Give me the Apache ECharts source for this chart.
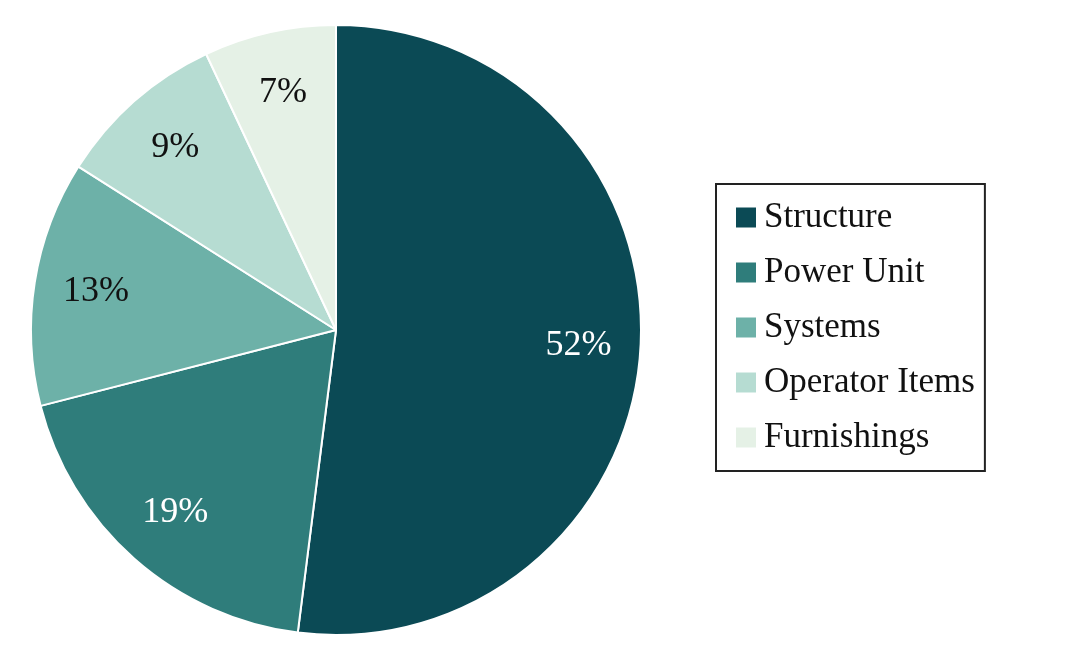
<!DOCTYPE html>
<html>
<head>
<meta charset="utf-8">
<script src="https://cdn.jsdelivr.net/npm/echarts@6/dist/echarts.min.js"></script>
<style>html,body{margin:0;background:#fff}#chart{width:1092px;height:662px}</style>
</head>
<body>
<div id="chart"></div>
<script>
var categories = ["Structure", "Power Unit", "Systems", "Operator Items", "Furnishings"];
var values = [52, 19, 13, 9, 7];
var colors = ["#0b4a55", "#2f7d7b", "#6db1a8", "#b6dcd2", "#e5f1e6"];
var labelColors = ["#fff", "#fff", "#111", "#111", "#111"];

var chart = echarts.init(document.getElementById("chart"));
var font = "Liberation Serif";
chart.setOption({
  animation: false,
  color: colors,
  legend: {
    orient: "vertical",
    left: 716,
    top: 184,
    width: 352,
    height: 296,
    padding: [16, 10, 16, 18],
    itemGap: 20,
    itemWidth: 22,
    itemHeight: 22,
    icon: "rect",
    borderColor: "#222",
    borderWidth: 2,
    data: categories,
    textStyle: { fontFamily: font, fontSize: 35, color: "#111", padding: [0, 0, 0, 2] }
  },
  series: [
    {
      type: "pie",
      center: [336, 330],
      radius: [0, 305],
      startAngle: 90,
      label: { show: false },
      labelLine: { show: false },
      itemStyle: { borderColor: "#fff", borderWidth: 2 },
      data: categories.map(function (c, i) { return { name: c, value: values[i] }; })
    },
    {
      type: "pie",
      silent: true,
      legendHoverLink: false,
      center: [336, 330],
      radius: [0, 480],
      startAngle: 90,
      itemStyle: { color: "rgba(0,0,0,0)" },
      label: { show: true, position: "inside", fontFamily: font, fontSize: 36, formatter: "{c}%" },
      labelLine: { show: false },
      data: categories.map(function (c, i) {
        return { name: c + " ", value: values[i], label: { color: labelColors[i] } };
      })
    }
  ]
});
</script>
</body>
</html>
